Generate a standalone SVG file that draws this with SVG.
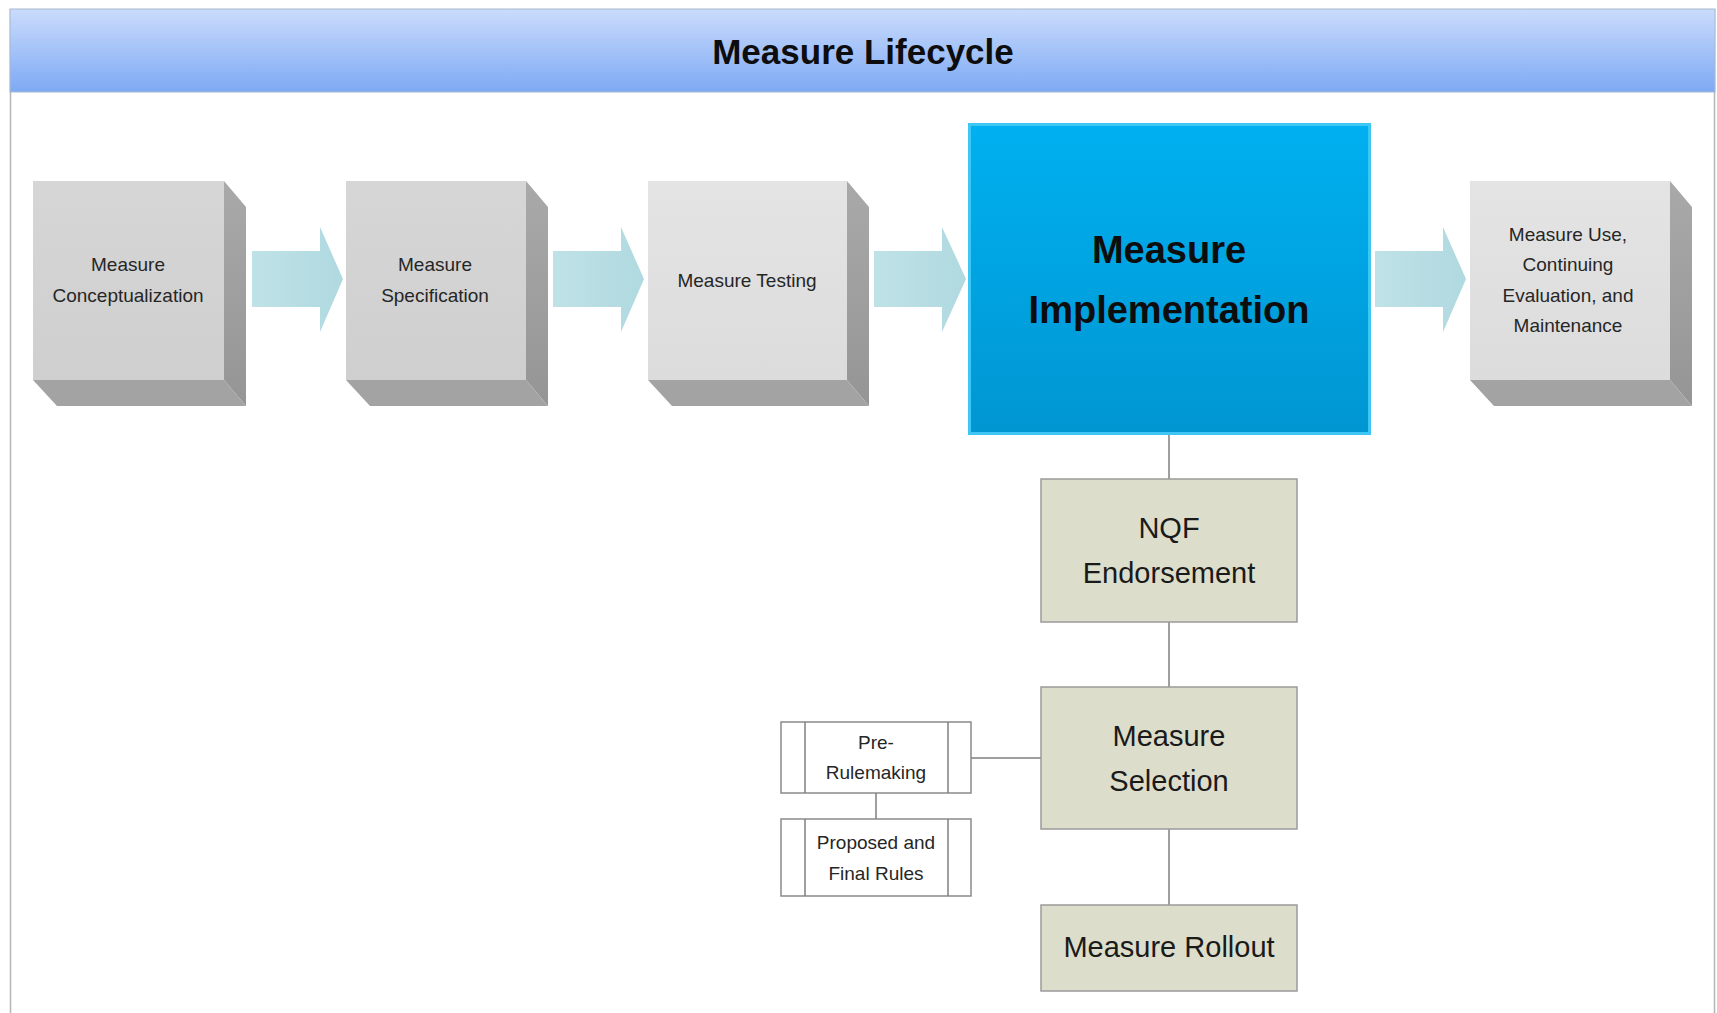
<svg xmlns="http://www.w3.org/2000/svg" width="1717" height="1013" viewBox="0 0 1717 1013">
<defs>
<linearGradient id="hdr" x1="0" y1="0" x2="0" y2="1"><stop offset="0" stop-color="#cadcfc"/><stop offset="1" stop-color="#7ea9f4"/></linearGradient>
<linearGradient id="front" x1="0" y1="0" x2="0" y2="1"><stop offset="0" stop-color="#d6d6d6"/><stop offset="1" stop-color="#cfcfcf"/></linearGradient>
<linearGradient id="frontL" x1="0" y1="0" x2="0" y2="1"><stop offset="0" stop-color="#e4e4e4"/><stop offset="1" stop-color="#dcdcdc"/></linearGradient>
<linearGradient id="side" x1="0" y1="0" x2="0" y2="1"><stop offset="0" stop-color="#a9a9a9"/><stop offset="1" stop-color="#959595"/></linearGradient>
<linearGradient id="impl" x1="0" y1="0" x2="0" y2="1"><stop offset="0" stop-color="#00b0f0"/><stop offset="1" stop-color="#0096d2"/></linearGradient>
<linearGradient id="arr" x1="0" y1="0" x2="1" y2="0"><stop offset="0" stop-color="#bfe2e7"/><stop offset="1" stop-color="#b0d9e0"/></linearGradient>
<style>
.t{font-family:"Liberation Sans",Arial,sans-serif;fill:#262626;text-anchor:middle;dominant-baseline:central}
.s19{font-size:19px}
.s29{font-size:29px;fill:#1a1a1a}
.side{fill:url(#side)}
.bot{fill:#a3a3a3}
.arrow{fill:url(#arr)}
.sub{fill:#dcdecb;stroke:#9a9a9a;stroke-width:1.5}
.rule{fill:#ffffff;stroke:#8a8a8a;stroke-width:1.5}
.conn{stroke:#7f7f7f;stroke-width:1.5;fill:none}
</style>
</defs>
<rect x="0" y="0" width="1717" height="1013" fill="#ffffff"/>
<!-- frame -->
<g id="frame">
<line x1="10.5" y1="9" x2="10.5" y2="1013" stroke="#b5b5b5" stroke-width="1.5"/>
<line x1="1714.5" y1="9" x2="1714.5" y2="1013" stroke="#b5b5b5" stroke-width="1.5"/>
<rect x="10" y="9" width="1705" height="83" fill="url(#hdr)" stroke="#a8b8d0" stroke-width="1"/>
<text x="863" y="51" class="t" style="font-size:35px;font-weight:bold;fill:#0d0d0d">Measure Lifecycle</text>
</g>
<g id="connectors">
<polygon class="arrow" points="252,251 320,251 320,227 343,279 320,332 320,307 252,307"/>
<polygon class="arrow" points="553,251 621,251 621,227 644,279 621,332 621,307 553,307"/>
<polygon class="arrow" points="874,251 942,251 942,227 966,279 942,332 942,307 874,307"/>
<polygon class="arrow" points="1375,251 1443,251 1443,227 1466,279 1443,332 1443,307 1375,307"/>
<line class="conn" x1="1169" y1="434" x2="1169" y2="479"/>
<line class="conn" x1="1169" y1="622" x2="1169" y2="687"/>
<line class="conn" x1="1169" y1="829" x2="1169" y2="905"/>
<line class="conn" x1="971" y1="758" x2="1041" y2="758"/>
<line class="conn" x1="876" y1="793" x2="876" y2="819"/>
</g>
<g id="n-conceptualization">
<polygon class="side" points="224,181 246,207 246,406 224,380"/>
<polygon class="bot" points="33,380 224,380 246,406 57,406"/>
<rect x="33" y="181" width="191" height="199" fill="url(#front)"/>
<text class="t s19" x="128" y="264">Measure</text>
<text class="t s19" x="128" y="295">Conceptualization</text>
</g>
<g id="n-specification">
<polygon class="side" points="526,181 548,207 548,406 526,380"/>
<polygon class="bot" points="346,380 526,380 548,406 370,406"/>
<rect x="346" y="181" width="180" height="199" fill="url(#front)"/>
<text class="t s19" x="435" y="264">Measure</text>
<text class="t s19" x="435" y="295">Specification</text>
</g>
<g id="n-testing">
<polygon class="side" points="847,181 869,207 869,406 847,380"/>
<polygon class="bot" points="648,380 847,380 869,406 672,406"/>
<rect x="648" y="181" width="199" height="199" fill="url(#frontL)"/>
<text class="t s19" x="747" y="280">Measure Testing</text>
</g>
<g id="n-implementation">
<rect x="969.5" y="124.5" width="400" height="309" fill="url(#impl)" stroke="#3ec6f4" stroke-width="3"/>
<text class="t" x="1169" y="250" style="font-size:38px;font-weight:bold;fill:#0d0d0d">Measure</text>
<text class="t" x="1169" y="310" style="font-size:38px;font-weight:bold;fill:#0d0d0d">Implementation</text>
</g>
<g id="n-use">
<polygon class="side" points="1670,181 1692,207 1692,406 1670,380"/>
<polygon class="bot" points="1470,380 1670,380 1692,406 1494,406"/>
<rect x="1470" y="181" width="200" height="199" fill="url(#frontL)"/>
<text class="t s19" x="1568" y="234">Measure Use,</text>
<text class="t s19" x="1568" y="264">Continuing</text>
<text class="t s19" x="1568" y="295">Evaluation, and</text>
<text class="t s19" x="1568" y="325">Maintenance</text>
</g>
<g id="n-nqf">
<rect class="sub" x="1041" y="479" width="256" height="143"/>
<text class="t s29" x="1169" y="528">NQF</text>
<text class="t s29" x="1169" y="573">Endorsement</text>
</g>
<g id="n-selection">
<rect class="sub" x="1041" y="687" width="256" height="142"/>
<text class="t s29" x="1169" y="736">Measure</text>
<text class="t s29" x="1169" y="781">Selection</text>
</g>
<g id="n-rollout">
<rect class="sub" x="1041" y="905" width="256" height="86"/>
<text class="t s29" x="1169" y="947">Measure Rollout</text>
</g>
<g id="n-prerulemaking">
<rect class="rule" x="781" y="722" width="190" height="71"/>
<line class="conn" x1="805" y1="722" x2="805" y2="793"/>
<line class="conn" x1="948" y1="722" x2="948" y2="793"/>
<text class="t s19" x="876" y="742">Pre-</text>
<text class="t s19" x="876" y="772">Rulemaking</text>
</g>
<g id="n-proposed">
<rect class="rule" x="781" y="819" width="190" height="77"/>
<line class="conn" x1="805" y1="819" x2="805" y2="896"/>
<line class="conn" x1="948" y1="819" x2="948" y2="896"/>
<text class="t s19" x="876" y="842">Proposed and</text>
<text class="t s19" x="876" y="873">Final Rules</text>
</g>
</svg>
